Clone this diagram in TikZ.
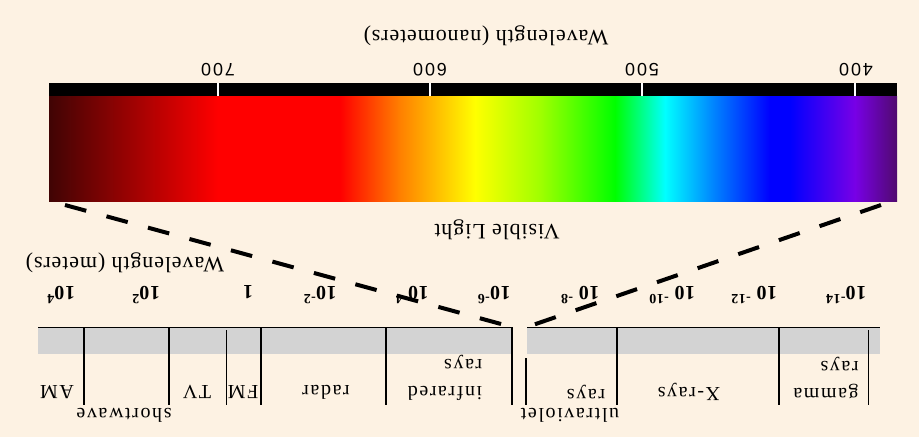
\documentclass[tikz,border=0pt]{standalone}
\usepackage{fontspec}
\setmainfont{Liberation Serif}
\newfontfamily\lbl[LetterSpace=8]{Liberation Serif}
\newfontfamily\ttl[LetterSpace=4]{Liberation Serif}
\newfontfamily\expf[LetterSpace=3]{Liberation Serif}
\newfontfamily\nmf[LetterSpace=10]{Liberation Sans}
\definecolor{bg}{RGB}{253,242,227}
\definecolor{bandgray}{RGB}{211,211,211}
\definecolor{dkred}{RGB}{64,4,4}
\definecolor{specred}{RGB}{255,0,0}
\definecolor{orng}{RGB}{255,128,0}
\definecolor{ylw}{RGB}{255,255,0}
\definecolor{ylgr}{RGB}{160,255,0}
\definecolor{grn}{RGB}{0,255,0}
\definecolor{cyn}{RGB}{0,255,255}
\definecolor{skyb}{RGB}{0,128,255}
\definecolor{blu}{RGB}{0,0,255}
\definecolor{viol}{RGB}{120,0,230}
\definecolor{dkviol}{RGB}{80,10,110}
\pgfdeclarehorizontalshading{spectrum}{100bp}{color(0bp)=(dkred); color(25bp)=(dkred); color(34.96bp)=(specred); color(42.16bp)=(specred); color(45.70bp)=(orng); color(50.12bp)=(ylw); color(53.95bp)=(ylgr); color(58.37bp)=(grn); color(61.32bp)=(cyn); color(64.27bp)=(skyb); color(67.51bp)=(blu); color(68.69bp)=(blu); color(72.52bp)=(viol); color(75bp)=(dkviol); color(100bp)=(dkviol)}
\begin{document}
\begin{tikzpicture}[x=1pt,y=-1pt,
  txt/.style={rotate=180,inner sep=0pt,font=\lbl\fontsize{20}{27}\selectfont},
  title/.style={rotate=180,inner sep=0pt,font=\ttl\fontsize{22}{26}\selectfont},
  nmlbl/.style={rotate=180,inner sep=0pt,font=\nmf\fontsize{18}{21}\selectfont},
  explbl/.style={rotate=180,inner sep=0pt,font=\expf\bfseries\fontsize{20}{24}\selectfont},
  divider/.style={line width=1.1pt},
  thindiv/.style={line width=0.7pt},
  zoomline/.style={line width=4pt,dash pattern=on 22pt off 21pt}]
\fill[bg] (0,0) rectangle (919,437);
\useasboundingbox (0,0) rectangle (919,437);
% spectrum
\shade[shading=spectrum] (49,96) rectangle (897,201);
% black scale bar
\fill[black] (49,83) rectangle (897,96);
\foreach \xx in {218,430,642,855} \draw[white,line width=2pt] (\xx,83) -- (\xx,96);
\node[nmlbl] (t700) at (218,70) {700};
\node[nmlbl] (t600) at (430,70) {600};
\node[nmlbl] (t500) at (642,70) {500};
\node[nmlbl] (t400) at (856,70) {400};
\node[title] (nmtitle) at (486,36) {Wavelength (nanometers)};
\node[title] (vis) at (497,230) {Visible Light};
% band
\fill[bandgray] (38,327) rectangle (513,354);
\fill[bandgray] (527,327) rectangle (880,354);
\draw[line width=1pt] (38,327) -- (513,327);
\draw[line width=1pt] (527,327) -- (880,327);
\coordinate (specL) at (65,205);
\coordinate (specR) at (881,205);
\coordinate (gapL) at (512,327);
\coordinate (gapR) at (527,327);
\draw[zoomline] (specL) -- (gapL);
\draw[zoomline] (specR) -- (gapR);
% dividers
\foreach \xx in {84,169,261,386,512,617,779} \draw[divider] (\xx,327) -- (\xx,405);
\draw[thindiv] (226,330) -- (226,405);
\draw[divider] (526,358) -- (526,405);
\draw[thindiv] (868,330) -- (868,405);
% meters labels
\node[title] (mtitle) at (125,263) {Wavelength (meters)};
\node[explbl] (e4) at (61,295) {10\textsuperscript{4}};
\node[explbl] (e2) at (146,295) {10\textsuperscript{2}};
\node[explbl] (e0) at (248,292) {1};
\node[explbl] (em2) at (320,295) {10\textsuperscript{-2}};
\node[explbl] (em4) at (412,295) {10\textsuperscript{-4}};
\node[explbl] (em6) at (494,295) {10\textsuperscript{-6}};
\node[explbl] (em8) at (580,295) {10 \textsuperscript{-8}};
\node[explbl] (em10) at (672,295) {10 \textsuperscript{-10}};
\node[explbl] (em12) at (754,295) {10 \textsuperscript{-12}};
\node[explbl] (em14) at (846,295) {10\textsuperscript{-14}};
% band labels
\node[txt] (am) at (57,392) {AM};
\node[txt] (sw) at (124,415) {shortwave};
\node[txt] (tv) at (197,392) {TV};
\node[txt] (fm) at (243,392) {FM};
\node[txt] (radar) at (326,392) {radar};
\node[txt,align=left] (ir) at (445,378) {infrared\\rays};
\node[txt] (uv) at (570,415) {ultraviolet};
\node[txt] (uvr) at (586,392) {rays};
\node[txt] (xr) at (689,392) {X-rays};
\node[txt,align=left] (gr) at (826,378) {gamma\\rays};
\end{tikzpicture}
\end{document}
